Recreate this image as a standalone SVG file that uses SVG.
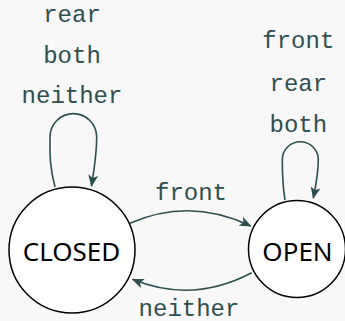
<svg xmlns="http://www.w3.org/2000/svg" width="345" height="321" viewBox="0 0 345 321">
<style>
.bg{fill:#f8f8f8}
.node circle{fill:#ffffff;stroke:#000000;stroke-width:1.5}
.node text{font-family:"Noto Sans","Open Sans",sans-serif;font-size:26px;fill:#000000;text-anchor:middle}
.edge{fill:none;stroke:#2f4f4f;stroke-width:1.6;marker-end:url(#arrow)}
.lbl{font-family:"Liberation Mono",monospace;font-size:24px;fill:#2f4f4f;text-anchor:middle}
</style>
<defs>
<marker id="arrow" viewBox="0 0 12 10" refX="11" refY="5" markerWidth="12" markerHeight="10" markerUnits="userSpaceOnUse" orient="auto">
<path d="M0,0 L12,5 L0,10 L3,5 Z" fill="#2f4f4f"/>
</marker>
</defs>
<rect class="bg" x="0" y="0" width="345" height="321"/>
<g id="connectors">
<path class="edge" d="M55,187 C49,165 50,150 50,137 A23.3,23.3 0 0 1 96.7,137 C96.7,155 94,170 91.5,186"/>
<path class="edge" d="M285,200 C282.5,185 282.3,170 282.3,159.7 A18,18 0 0 1 318.3,159.7 C318.3,172 316,185 313.3,198"/>
<path class="edge" d="M130,223.3 Q190,197 250.7,226"/>
<path class="edge" d="M251.7,272.7 Q192,304 132.7,279.3"/>
<text class="lbl" x="72" y="21.5">rear</text>
<text class="lbl" x="72" y="62.5">both</text>
<text class="lbl" x="72" y="103.3">neither</text>
<text class="lbl" x="298.3" y="48.3">front</text>
<text class="lbl" x="298.3" y="90.7">rear</text>
<text class="lbl" x="298.3" y="131.7">both</text>
<text class="lbl" x="191" y="200">front</text>
<text class="lbl" x="189" y="315.5">neither</text>
</g>
<g id="node-closed" class="node">
<circle cx="72" cy="250" r="63"/>
<text x="71.5" y="260.5">CLOSED</text>
</g>
<g id="node-open" class="node">
<circle cx="297" cy="249" r="48.5"/>
<text x="297.5" y="261">OPEN</text>
</g>
</svg>
